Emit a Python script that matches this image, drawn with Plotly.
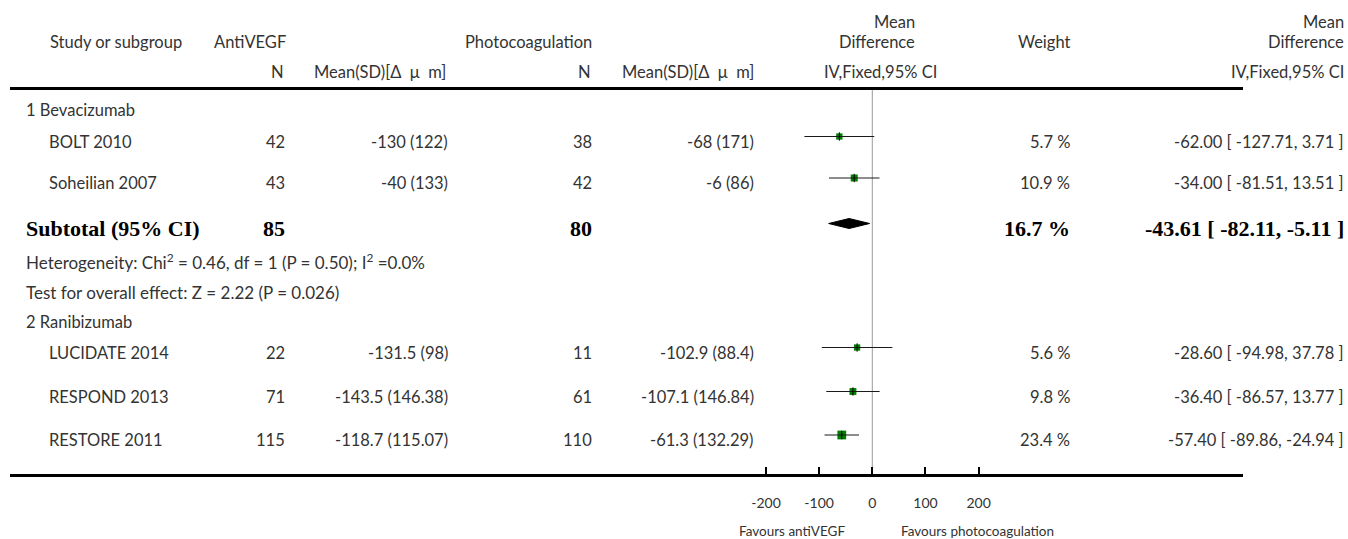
import plotly.graph_objects as go

# ---- data -------------------------------------------------------------
group_names = ["1 Bevacizumab", "2 Ranibizumab"]
studies = ["BOLT 2010", "Soheilian 2007", "LUCIDATE 2014", "RESPOND 2013", "RESTORE 2011"]
study_group = [0, 0, 1, 1, 1]
n_anti = [42, 43, 22, 71, 115]
mean_anti = [-130, -40, -131.5, -143.5, -118.7]
sd_anti = [122, 133, 98, 146.38, 115.07]
n_photo = [38, 42, 11, 61, 110]
mean_photo = [-68, -6, -102.9, -107.1, -61.3]
sd_photo = [171, 86, 88.4, 146.84, 132.29]
md = [-62.00, -34.00, -28.60, -36.40, -57.40]
ci_low = [-127.71, -81.51, -94.98, -86.57, -89.86]
ci_high = [3.71, 13.51, 37.78, 13.77, -24.94]
weight = [5.7, 10.9, 5.6, 9.8, 23.4]

sub_n_anti = 85
sub_n_photo = 80
sub_weight = 16.7
sub_md = -43.61
sub_low = -82.11
sub_high = -5.11
het_text = "Heterogeneity: Chi<sup>2</sup> = 0.46, df = 1 (P = 0.50); I<sup>2</sup> =0.0%"
effect_text = "Test for overall effect: Z = 2.22 (P = 0.026)"

axis_ticks = [-200, -100, 0, 100, 200]
favours_left = "Favours antiVEGF"
favours_right = "Favours photocoagulation"

# ---- layout geometry (pixels) -----------------------------------------
W, H = 1348, 539
TABLE_L, TABLE_R = 10, 1243          # extent of the horizontal rules
AXIS_Y = 474                          # bottom rule / scale line
HEAD_Y = 88.5                         # top rule
ZERO_PX = 872.3                       # where 0 sits on the scale
PX_PER_UNIT = 0.5315

# right edges of the table columns
COL_N_ANTI = 287
COL_M_ANTI = 450
COL_N_PHOTO = 594
COL_M_PHOTO = 756
COL_WEIGHT = 1072
COL_CI = 1346
COL_LEFT = 24
COL_STUDY = 47

# vertical text centres of each row
group_y = [110, 321.5]
study_text_y = [141.5, 183, 352.5, 396.5, 440]
sub_y = 228.5
het_y = 261.5
eff_y = 292.5
MARK_SHIFT = -5                       # marks sit a little above the text line

FONT = "Lato"
SERIF = "Liberation Serif"
TXT = "#333333"
FS = 16.5


def fmt(v):
    return f"{v:g}"


def ms(v, s):
    return f"{fmt(v)} ({fmt(s)})"


def ci_str(m, lo, hi):
    return f"{m:.2f} [ {lo:.2f}, {hi:.2f} ]"


fig = go.Figure()
annotations = []


def cell(text, x, y, anchor="right", size=FS, family=FONT, color=TXT, yref="y"):
    annotations.append(dict(
        text=text, x=x / W, xref="paper", y=y, yref=yref,
        xanchor=anchor, yanchor="middle", showarrow=False,
        font=dict(family=family, size=size, color=color),
    ))


# header
cell("Mean", 917, 21.5)
cell("Mean", COL_CI, 21.5)
cell("Study or subgroup", 48, 41.5, "left")
cell("AntiVEGF", 288, 41.5)
cell("Photocoagulation", COL_N_PHOTO, 41.5)
cell("Difference", 917, 41.5)
cell("Weight", COL_WEIGHT, 41.5)
cell("Difference", COL_CI, 41.5)
cell("N", COL_N_ANTI - 1, 71.5)
cell("Mean(SD)[Δ  μ  m]", 448, 71.5)
cell("N", COL_N_PHOTO - 1, 71.5)
cell("Mean(SD)[Δ  μ  m]", COL_M_PHOTO, 71.5)
cell("IV,Fixed,95% CI", 880, 71.5, "center")
cell("IV,Fixed,95% CI", COL_CI, 71.5)

# group titles
for g, name in enumerate(group_names):
    cell(name, COL_LEFT, group_y[g], "left")

# study rows
for i, name in enumerate(studies):
    y = study_text_y[i]
    cell(name, COL_STUDY, y, "left")
    cell(str(n_anti[i]), COL_N_ANTI, y)
    cell(ms(mean_anti[i], sd_anti[i]), COL_M_ANTI, y)
    cell(str(n_photo[i]), COL_N_PHOTO, y)
    cell(ms(mean_photo[i], sd_photo[i]), COL_M_PHOTO, y)
    cell(f"{weight[i]} %", COL_WEIGHT, y)
    cell(ci_str(md[i], ci_low[i], ci_high[i]), COL_CI, y)

# subtotal
BS = 22
cell("<b>Subtotal (95% CI)</b>", COL_LEFT, sub_y, "left", BS, SERIF, "#000")
cell(f"<b>{sub_n_anti}</b>", COL_N_ANTI, sub_y, "right", BS, SERIF, "#000")
cell(f"<b>{sub_n_photo}</b>", COL_N_PHOTO, sub_y, "right", BS, SERIF, "#000")
cell(f"<b>{sub_weight} %</b>", COL_WEIGHT, sub_y, "right", BS, SERIF, "#000")
cell(f"<b>{ci_str(sub_md, sub_low, sub_high)}</b>", COL_CI, sub_y, "right", BS, SERIF, "#000")
cell(het_text, COL_LEFT, het_y, "left", 17)
cell(effect_text, COL_LEFT, eff_y, "left", 17)

# favours labels under the scale
for text, xpx, anchor in [(favours_left, 847, "right"), (favours_right, 899, "left")]:
    annotations.append(dict(text=text, x=xpx / W, xref="paper", y=1 - 530.5 / H, yref="paper",
                            xanchor=anchor, yanchor="middle", showarrow=False,
                            font=dict(family=FONT, size=13.5, color=TXT)))

# ---- forest marks -----------------------------------------------------
mark_y = [y + MARK_SHIFT for y in study_text_y]

for i in range(len(studies)):
    fig.add_trace(go.Scatter(
        x=[md[i]], y=[mark_y[i]], mode="markers",
        marker=dict(symbol="square", size=5.5 + 0.14 * weight[i], color="#008000",
                    line=dict(width=0)),
        hoverinfo="skip", showlegend=False))
    fig.add_trace(go.Scatter(
        x=[ci_low[i], ci_high[i]], y=[mark_y[i], mark_y[i]], mode="lines",
        line=dict(color="#1a1a1a", width=1), hoverinfo="skip", showlegend=False))

fig.add_trace(go.Scatter(
    x=md, y=mark_y, mode="markers",
    marker=dict(symbol="line-ns", size=6, line=dict(color="#000", width=1)),
    hoverinfo="skip", showlegend=False))

# pooled estimate diamond
dy = sub_y + MARK_SHIFT
fig.add_trace(go.Scatter(
    x=[sub_low, sub_md, sub_high, sub_md, sub_low],
    y=[dy, dy - 5, dy, dy + 5, dy],
    mode="lines", fill="toself", fillcolor="#000",
    line=dict(color="#000", width=1), hoverinfo="skip", showlegend=False))

# ---- rules ------------------------------------------------------------
shapes = [
    dict(type="line", xref="paper", yref="y", x0=TABLE_L / W, x1=TABLE_R / W,
         y0=HEAD_Y, y1=HEAD_Y, line=dict(color="#000", width=3)),
    dict(type="line", xref="x", yref="y", x0=0, x1=0, y0=HEAD_Y, y1=AXIS_Y,
         line=dict(color="#9a9a9a", width=1), layer="below"),
]

x_lo = (TABLE_L - ZERO_PX) / PX_PER_UNIT
x_hi = (TABLE_R - ZERO_PX) / PX_PER_UNIT

fig.update_layout(
    width=W, height=H,
    margin=dict(l=0, r=0, t=0, b=0),
    paper_bgcolor="white", plot_bgcolor="white",
    annotations=annotations, shapes=shapes,
    xaxis=dict(domain=[TABLE_L / W, TABLE_R / W], range=[x_lo, x_hi],
               showgrid=False, zeroline=False, showline=True, linecolor="#000", linewidth=3,
               ticks="inside", ticklen=7, tickwidth=2, tickcolor="#000",
               tickvals=axis_ticks, ticktext=[str(t) for t in axis_ticks],
               tickfont=dict(family=FONT, size=14, color=TXT), ticklabelstandoff=14),
    yaxis=dict(domain=[1 - AXIS_Y / H, 1], range=[AXIS_Y, 0], visible=False),
)

fig.write_html("out.html")
